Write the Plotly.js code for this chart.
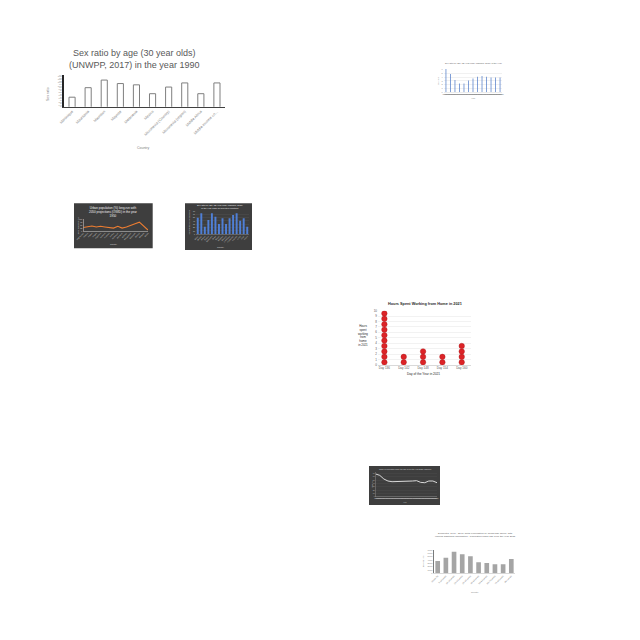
<!DOCTYPE html>
<html><head><meta charset="utf-8">
<script src="https://cdn.plot.ly/plotly-3.0.1.min.js"></script>
<style>html,body{margin:0;padding:0;background:#fff}#chart{width:640px;height:640px}</style>
</head><body><div id="chart"></div>
<script>
// ---- Chart 1: Sex ratio (outlined bars)
const sexCountries = ['Martinique','Mauritania','Mauritius','Mayotte','Melanesia','Mexico','Micronesia (Country)','Micronesia (region)','Middle Africa','Middle-income co…'];
const sexRatio1990 = [97.0, 100.0, 102.4, 101.3, 100.9, 98.1, 100.2, 101.5, 98.1, 101.5];
// ---- Chart 2: small blue bars
const blueYears = ['1950','1955','1960','1965','1970','1975','1980','1985','1990','1995','2000','2005','2010'];
const blueValues = [6.1, 4.8, 3.2, 2.3, 2.3, 3.1, 3.6, 4.1, 4.3, 4.1, 3.9, 3.9, 3.9];
// ---- Chart 3: dark, orange line
const urbanCountries = ['Afghanistan','Albania','Algeria','Angola','Argentina','Armenia','Australia','Austria','Azerbaijan','Bahamas','Bahrain','Bangladesh','Barbados','Belarus','Belgium','Belize'];
const urbanValues = [29, 37, 42, 34, 39, 34, 29, 24, 39, 24, 34, 45, 61, 74, 42, 8];
// ---- Chart 4: dark, blue bars
const darkBarCountries = ['Benin','Bhutan','Bolivia','Bosnia','Botswana','Brazil','Brunei','Bulgaria','Burundi','Cambodia','Cameroon','Canada','Chad','Chile','China'];
const darkBarValues = [50, 63, 23, 43, 63, 53, 31, 48, 31, 48, 58, 63, 41, 48, 23];
// ---- Chart 5: hours working from home (dot stacks)
const wfhDays = ['Day 136','Day 142','Day 148','Day 154','Day 160'];
const wfhHours = [10, 2, 3, 2, 4];
// ---- Chart 6: dark, light line
const lineYears = ['1950','1955','1960','1965','1970','1975','1980','1985','1990','1995','2000','2005','2010','2015','2020','2025'];
const lineValues = [68, 64, 53, 47, 45, 45, 45, 46, 47, 47, 48, 43, 42, 47, 47, 42];
// ---- Chart 7: gray bars
const grayCategories = ['Under-5s','5-14 years','15-24 years','25-34 years','35-44 years','45-54 years','55-64 years','65-74 years','75-84 years','85+ years'];
const grayValues = [3700, 4700, 6500, 5700, 5100, 3300, 3100, 2700, 2700, 4300];

const W = 640, H = 640;
const xd = (a, b) => [a / W, b / W];
const yd = (top, bottom) => [1 - bottom / H, 1 - top / H];
const px = v => v / W;
const py = v => 1 - v / H;

// dot-stack expansion for chart 5
const dotX = [], dotY = [];
wfhDays.forEach((d, i) => { for (let k = 0; k < wfhHours[i]; k++) { dotX.push(d); dotY.push(k + 0.5); } });

const FONT = 'Liberation Sans, Arial, sans-serif';
const ALLCAT = {tickmode: 'linear', tick0: 0, dtick: 1};

const traces = [
  {type: 'bar', x: sexCountries, y: sexRatio1990, xaxis: 'x', yaxis: 'y', width: 0.38,
   marker: {color: '#ffffff', line: {color: '#7f7f7f', width: 1}}, hoverinfo: 'skip'},
  {type: 'bar', x: blueYears, y: blueValues, xaxis: 'x2', yaxis: 'y2', width: 0.75,
   marker: {color: '#4472c4'}, hoverinfo: 'skip'},
  {type: 'scatter', mode: 'lines', x: urbanCountries, y: urbanValues, xaxis: 'x3', yaxis: 'y3',
   line: {color: '#ed7d31', width: 1.1}, hoverinfo: 'skip'},
  {type: 'bar', x: darkBarCountries, y: darkBarValues, xaxis: 'x4', yaxis: 'y4', width: 0.55,
   marker: {color: '#4f7fd6'}, hoverinfo: 'skip'},
  {type: 'scatter', mode: 'markers', x: dotX, y: dotY, xaxis: 'x5', yaxis: 'y5',
   marker: {color: '#dc2327', size: 5.5, line: {color: '#a81a1d', width: 0.4}}, hoverinfo: 'skip'},
  {type: 'scatter', mode: 'lines', x: lineYears, y: lineValues, xaxis: 'x6', yaxis: 'y6',
   line: {color: '#d9d9d9', width: 1}, hoverinfo: 'skip'},
  {type: 'bar', x: grayCategories, y: grayValues, xaxis: 'x7', yaxis: 'y7', width: 0.57,
   marker: {color: '#a5a5a5'}, hoverinfo: 'skip'}
];

const ann = (x, y, text, size, color, extra) => Object.assign({
  x: px(x), y: py(y), xref: 'paper', yref: 'paper', text: text, showarrow: false,
  xanchor: 'center', yanchor: 'middle', font: {family: FONT, size: size, color: color}
}, extra || {});

const layout = {
  width: W, height: H, margin: {l: 0, r: 0, t: 0, b: 0},
  paper_bgcolor: '#ffffff', plot_bgcolor: 'rgba(0,0,0,0)', showlegend: false,
  font: {family: FONT},
  shapes: [
    {type: 'rect', xref: 'paper', yref: 'paper', x0: px(74), x1: px(152.7), y0: py(248.3), y1: py(203.3),
     fillcolor: '#3e3e3e', line: {width: 0}, layer: 'below'},
    {type: 'rect', xref: 'paper', yref: 'paper', x0: px(185), x1: px(252), y0: py(250), y1: py(203.3),
     fillcolor: '#3e3e3e', line: {width: 0}, layer: 'below'},
    {type: 'rect', xref: 'paper', yref: 'paper', x0: px(369), x1: px(440), y0: py(505), y1: py(466),
     fillcolor: '#3e3e3e', line: {width: 0}, layer: 'below'}
  ],
  // Chart 1
  xaxis: Object.assign({domain: xd(64, 225), anchor: 'y', tickangle: -45, tickfont: {size: 3.7, color: '#7f7f7f'},
          showline: true, linecolor: '#404040', linewidth: 1.2, ticks: '', showgrid: false}, ALLCAT),
  yaxis: {domain: yd(75, 106.7), anchor: 'x', range: [94, 104], dtick: 0.5, tickfont: {size: 1.6, color: '#808080'},
          showline: true, linecolor: '#262626', linewidth: 2, showgrid: false, zeroline: false, ticks: ''},
  // Chart 2
  xaxis2: Object.assign({domain: xd(443.7, 502.3), anchor: 'y2', tickfont: {size: 1.5, color: '#808080'}, tickangle: 0,
           showline: true, linecolor: '#d9d9d9', linewidth: 0.5, ticks: '', showgrid: false}, ALLCAT),
  yaxis2: {domain: yd(69, 92.3), anchor: 'x2', range: [0, 6.1], dtick: 1, tickfont: {size: 2, color: '#808080'},
           showgrid: true, gridcolor: '#e3e3e3', gridwidth: 0.5, zeroline: false, showline: false, ticks: ''},
  // Chart 3
  xaxis3: Object.assign({domain: xd(83.3, 148), anchor: 'y3', tickangle: -45, tickfont: {size: 1.8, color: '#d9d9d9'},
           showline: true, linecolor: '#bfbfbf', linewidth: 0.6, ticks: '', showgrid: false}, ALLCAT),
  yaxis3: {domain: yd(219, 231), anchor: 'x3', range: [0, 100], dtick: 25, tickfont: {size: 1.8, color: '#d9d9d9'},
           showline: true, linecolor: '#bfbfbf', linewidth: 0.6, showgrid: false, zeroline: false, ticks: ''},
  // Chart 4
  xaxis4: Object.assign({domain: xd(196, 249), anchor: 'y4', tickangle: -45, tickfont: {size: 1.8, color: '#d9d9d9'},
           showline: true, linecolor: '#8c8c8c', linewidth: 0.5, ticks: '', showgrid: false}, ALLCAT),
  yaxis4: {domain: yd(210, 234.3), anchor: 'x4', range: [0, 73], dtick: 10, tickfont: {size: 1.8, color: '#d9d9d9'},
           showgrid: true, gridcolor: '#555555', gridwidth: 0.4, zeroline: false, ticks: ''},
  // Chart 5
  xaxis5: {domain: xd(378, 471), anchor: 'y5', range: [-0.33, 4.48], tickfont: {size: 3, color: '#595959'},
           showline: true, linecolor: '#bfbfbf', linewidth: 0.6, ticks: '', showgrid: false, zeroline: false},
  yaxis5: {domain: yd(310.7, 365), anchor: 'x5', range: [0, 10], dtick: 1, tickfont: {size: 3, color: '#595959'},
           showgrid: true, gridcolor: '#e6e6e6', gridwidth: 0.5, zeroline: false, ticks: ''},
  // Chart 6
  xaxis6: Object.assign({domain: xd(375.7, 437), anchor: 'y6', tickfont: {size: 1.3, color: '#bfbfbf'}, tickangle: 0,
           showline: true, linecolor: '#8c8c8c', linewidth: 0.5, ticks: '', showgrid: false}, ALLCAT),
  yaxis6: {domain: yd(471.7, 496.7), anchor: 'x6', range: [0, 75], dtick: 10, tickfont: {size: 1.8, color: '#bfbfbf'},
           showline: true, linecolor: '#8c8c8c', linewidth: 0.5,
           showgrid: true, gridcolor: '#4d4d4d', gridwidth: 0.4, zeroline: false, ticks: ''},
  // Chart 7
  xaxis7: Object.assign({domain: xd(433.6, 515.4), anchor: 'y7', tickangle: -45, tickfont: {size: 2.2, color: '#808080'},
           showline: true, linecolor: '#bfbfbf', linewidth: 0.6, ticks: '', showgrid: false}, ALLCAT),
  yaxis7: {domain: yd(550, 573.3), anchor: 'x7', range: [0, 7000], dtick: 1000, tickfont: {size: 2.2, color: '#808080'},
           showline: true, linecolor: '#595959', linewidth: 0.8, showgrid: false, zeroline: false, ticks: ''},
  annotations: [
    // Chart 1
    ann(134, 58.8, 'Sex ratio by age (30 year olds)<br>(UNWPP, 2017) in the year 1990', 9, '#595959'),
    ann(48, 94, 'Sex ratio', 3.5, '#808080', {textangle: -90}),
    ann(143, 148, 'Country', 3.5, '#808080'),
    // Chart 2
    ann(473.3, 64, 'Sex ratio by age (30 year olds) (UNWPP, 2017) in the year', 2.2, '#595959'),
    ann(438, 81, 'Sex ratio', 2, '#808080', {textangle: -90}),
    ann(473, 97.5, 'Year', 2, '#808080'),
    // Chart 3
    ann(113, 212, 'Urban population (%) long-run with<br>2050 projections (OWID) in the year<br>1950', 3, '#f2f2f2'),
    ann(77.5, 226, 'Urban population (%)', 1.8, '#d9d9d9', {textangle: -90}),
    ann(113, 244.3, 'Country', 2, '#d9d9d9'),
    // Chart 4
    ann(220, 206.5, 'Sex ratio by age (30 year olds) (UNWPP, 2017)<br>in the year 1950 for selected countries', 2.2, '#f2f2f2'),
    ann(188.5, 222, 'Sex ratio by age (30 year olds)', 1.8, '#d9d9d9', {textangle: -90}),
    ann(220, 246.5, 'Country', 2, '#d9d9d9'),
    // Chart 5
    ann(425, 304, '<b>Hours Spent Working from Home in 2021</b>', 3.8, '#262626'),
    ann(363.3, 335.3, 'Hours<br>spent<br>working<br>from<br>home<br>in 2021', 2.9, '#262626'),
    ann(423, 374, 'Day of the Year in 2021', 3.2, '#262626'),
    // Chart 6
    ann(405, 468.5, 'Share of population under the age of 5 in the year 2025 (UNWPP)', 1.8, '#d9d9d9'),
    ann(371.8, 484, 'Share (%)', 1.6, '#bfbfbf', {textangle: -90}),
    ann(405, 501.8, 'Year', 1.8, '#bfbfbf'),
    // Chart 7
    ann(475, 535, 'Dementia, 1990 - 2040: Total expenditure by broad age group, with<br>various additional information - Population under age 5 for the year 2015', 2.5, '#595959'),
    ann(422.5, 561.7, 'Expenditure', 2.2, '#808080', {textangle: -90}),
    ann(475, 591.7, 'Country', 2.2, '#808080')
  ]
};

Plotly.newPlot('chart', traces, layout, {staticPlot: true, displayModeBar: false});
</script>
</body></html>
